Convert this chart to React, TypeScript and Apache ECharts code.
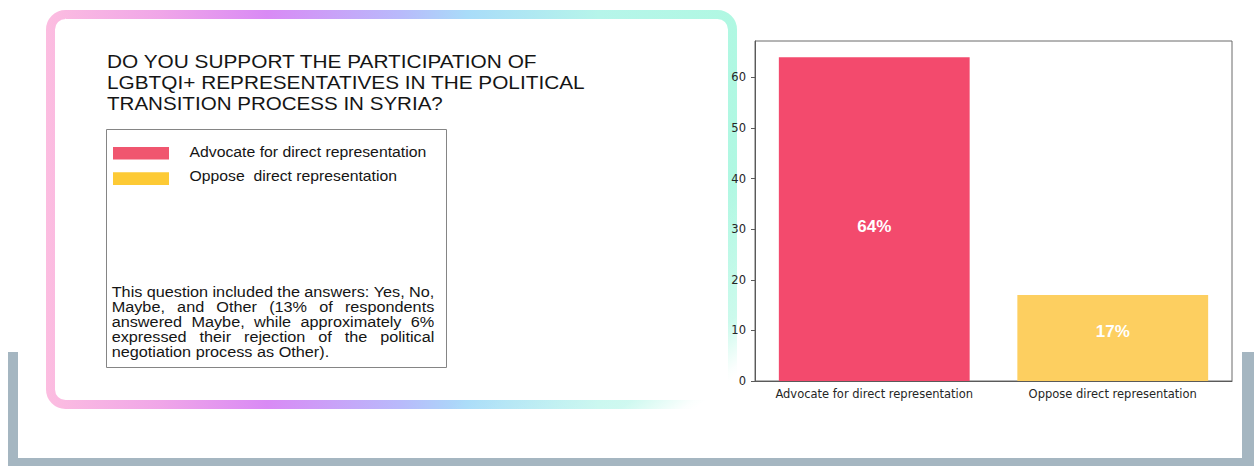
import React, { useEffect, useRef } from "react";
import * as echarts from "echarts";

// ---------- data ----------
const categories = ["Advocate for direct representation", "Oppose direct representation"];
const values = [64, 17];
const valueLabels = ["64%", "17%"];
const barColors = ["#f34a6d", "#fdcf60"];
const yTicks = [0, 10, 20, 30, 40, 50, 60];
const yMax = 67.2;

const titleLines = [
  "DO YOU SUPPORT THE PARTICIPATION OF",
  "LGBTQI+ REPRESENTATIVES IN THE POLITICAL",
  "TRANSITION PROCESS IN SYRIA?",
];
const legendItems = ["Advocate for direct representation", "Oppose  direct representation"];
const legendColors = ["#f0566f", "#fdca35"];
const noteLines = [
  "This question included the answers: Yes, No,",
  "Maybe, and Other (13% of respondents",
  "answered Maybe, while approximately 6%",
  "expressed their rejection of the political",
  "negotiation process as Other).",
];

// ---------- layout ----------
const TITLE_X = 107;
const TITLE_Y = [61.7, 82.5, 103.2];
const TITLE_W = [431, 478, 336];
const LEGEND_TEXT_X = 189.5;
const LEGEND_Y = [151.5, 176.8];
const LEGEND_W = [237, 207.7];
const NOTE_X = 111.7;
const NOTE_W = 322.6;
const NOTE_Y0 = 292.3;
const NOTE_DY = 15;
const NOTE_SCALE = 1.16;

let measureCtx: CanvasRenderingContext2D | null = null;
function measure(text: string, font: string): number {
  if (!measureCtx) measureCtx = document.createElement("canvas").getContext("2d");
  if (!measureCtx) return text.length * 7;
  measureCtx.font = font;
  return measureCtx.measureText(text).width;
}

function buildGraphic(): any[] {
  const els: any[] = [];
  const gray = "#a5b6c1";
  // grey U frame
  els.push({ type: "rect", z: 0, shape: { x: 8, y: 352, width: 10, height: 114 }, style: { fill: gray } });
  els.push({ type: "rect", z: 0, shape: { x: 8, y: 458, width: 1246, height: 8 }, style: { fill: gray } });
  els.push({ type: "rect", z: 0, shape: { x: 1242, y: 352, width: 12, height: 114 }, style: { fill: gray } });

  // gradient rounded frame
  els.push({
    type: "rect",
    z: 0,
    shape: { x: 50.5, y: 14.5, width: 682, height: 390, r: 15 },
    style: {
      fill: "#ffffff",
      lineWidth: 9,
      stroke: new echarts.graphic.LinearGradient(46, 0, 737, 0, [
        { offset: 0, color: "#fcbde0" },
        { offset: 0.165, color: "#f0a6e8" },
        { offset: 0.32, color: "#d98af5" },
        { offset: 0.51, color: "#b9b9fb" },
        { offset: 0.61, color: "#a9dcf9" },
        { offset: 0.8, color: "#b6f5ea" },
        { offset: 1, color: "#b0f8e2" },
      ], true),
    },
  });
  // fade of bottom-right part
  els.push({
    type: "rect",
    z: 0,
    shape: { x: 452, y: 150, width: 295, height: 265 },
    style: {
      fill: new echarts.graphic.LinearGradient(450, 405, 547.6, 527, [
        { offset: 0, color: "rgba(255,255,255,0)" },
        { offset: 0.7, color: "rgba(255,255,255,0.35)" },
        { offset: 0.95, color: "rgba(255,255,255,0.95)" },
        { offset: 1, color: "rgba(255,255,255,1)" },
      ], true),
    },
  });

  // title
  const titleFont = "18.5px 'Liberation Sans'";
  titleLines.forEach((t, i) => {
    const w = measure(t, titleFont);
    els.push({
      type: "text",
      z: 1,
      x: TITLE_X,
      y: TITLE_Y[i],
      scaleX: TITLE_W[i] / w,
      style: { text: t, fontSize: 18.5, fontFamily: "Liberation Sans", fill: "#151515", verticalAlign: "middle", textVerticalAlign: "middle" },
    });
  });

  // legend box
  els.push({
    type: "rect",
    z: 1,
    shape: { x: 106.5, y: 129.5, width: 340, height: 238 },
    style: { fill: "#ffffff", stroke: "#858585", lineWidth: 1 },
  });
  const swY = [147, 172.3];
  const swH = [12.5, 12.7];
  const legFont = "14px 'Liberation Sans'";
  legendItems.forEach((t, i) => {
    els.push({ type: "rect", z: 2, shape: { x: 113, y: swY[i], width: 56, height: swH[i] }, style: { fill: legendColors[i] } });
    const w = measure(t, legFont);
    els.push({
      type: "text",
      z: 2,
      x: LEGEND_TEXT_X,
      y: LEGEND_Y[i],
      scaleX: LEGEND_W[i] / w,
      style: { text: t, fontSize: 14, fontFamily: "Liberation Sans", fill: "#151515", verticalAlign: "middle", textVerticalAlign: "middle" },
    });
  });

  // note, justified
  const noteFont = "14px 'Liberation Sans'";
  noteLines.forEach((line, li) => {
    const y = NOTE_Y0 + li * NOTE_DY;
    const baseStyle = { fontSize: 14, fontFamily: "Liberation Sans", fill: "#151515", verticalAlign: "middle", textVerticalAlign: "middle" };
    if (li < noteLines.length - 1) {
      const words = line.split(" ");
      const ws = words.map((w) => measure(w, noteFont) * NOTE_SCALE);
      const total = ws.reduce((a, b) => a + b, 0);
      const gap = words.length > 1 ? (NOTE_W - total) / (words.length - 1) : 0;
      let x = NOTE_X;
      words.forEach((w, wi) => {
        els.push({ type: "text", z: 2, x, y, scaleX: NOTE_SCALE, style: { ...baseStyle, text: w } });
        x += ws[wi] + gap;
      });
    } else {
      els.push({ type: "text", z: 2, x: NOTE_X, y, scaleX: NOTE_SCALE, style: { ...baseStyle, text: line } });
    }
  });
  return els;
}

const labelOffsets = [7, -6];

export default function App() {
  const ref = useRef<HTMLDivElement>(null);
  useEffect(() => {
    if (!ref.current) return;
    const chart = echarts.init(ref.current, undefined, { renderer: "svg" });
    const axisColor = "#5a5a5a";
    chart.setOption({
      animation: false,
      backgroundColor: "#ffffff",
      grid: {
        left: 755,
        top: 41,
        width: 477,
        height: 340,
        show: true,
        borderColor: "#6a6a6a",
        borderWidth: 1,
        backgroundColor: "#ffffff",
        z: 5,
      },
      xAxis: {
        type: "category",
        data: categories,
        z: 10,
        axisLine: { lineStyle: { color: axisColor, width: 1 } },
        axisTick: { alignWithLabel: true, length: 4, lineStyle: { color: axisColor } },
        axisLabel: { color: "#262626", fontFamily: "DejaVu Sans", fontSize: 11.5, margin: 7, interval: 0 },
      },
      yAxis: {
        type: "value",
        min: 0,
        max: yMax,
        interval: 10,
        z: 10,
        splitLine: { show: false },
        axisLine: { show: true, lineStyle: { color: axisColor, width: 1 } },
        axisTick: { show: true, length: 4, lineStyle: { color: axisColor }, customValues: yTicks },
        axisLabel: { color: "#262626", fontFamily: "DejaVu Sans", fontSize: 11.5, margin: 9, customValues: yTicks },
      },
      series: [
        {
          type: "bar",
          z: 8,
          barCategoryGap: "20%",
          data: values.map((v, i) => ({
            value: v,
            itemStyle: { color: barColors[i] },
            label: { offset: [0, labelOffsets[i]] },
          })),
          label: {
            show: true,
            position: "inside",
            formatter: (p: any) => valueLabels[p.dataIndex],
            color: "#ffffff",
            fontWeight: "bold",
            fontSize: 17,
            fontFamily: "Liberation Sans",
          },
        },
      ],
      graphic: buildGraphic(),
    });
    return () => chart.dispose();
  }, []);
  return <div ref={ref} style={{ position: "absolute", left: 0, top: 0, width: 1254, height: 466 }} />;
}
